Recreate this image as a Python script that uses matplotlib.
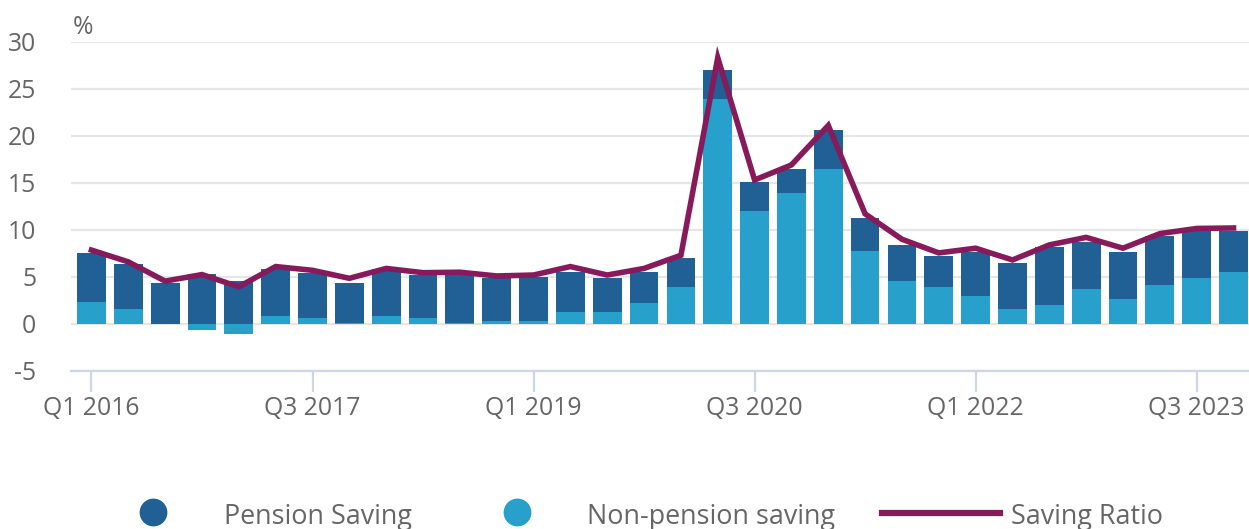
import numpy as np
import matplotlib
matplotlib.use("Agg")
import matplotlib.pyplot as plt
from matplotlib.lines import Line2D

# ---------- DATA ----------
quarters = [f"Q{q} {y}" for y in range(2016, 2024) for q in range(1, 5)]

non_pension = [2.3, 1.6, 0.0, -0.6, -1.1, 0.85, 0.6, 0.15, 0.85, 0.6,
               0.15, 0.35, 0.35, 1.3, 1.3, 2.25, 3.95, 23.9, 12.0, 13.9,
               16.5, 7.75, 4.6, 3.9, 2.95, 1.55, 2.0, 3.7, 2.7, 4.15,
               4.9, 5.55]
total_top = [7.5, 6.35, 4.4, 5.35, 4.55, 5.85, 5.45, 4.4, 5.8, 5.15,
             5.15, 4.9, 5.0, 5.55, 4.85, 5.55, 7.05, 27.0, 15.1, 16.5,
             20.6, 11.3, 8.4, 7.2, 7.65, 6.5, 8.15, 8.75, 7.65, 9.35,
             9.9, 9.85]
saving_ratio = [7.85, 6.6, 4.55, 5.25, 3.95, 6.1, 5.7, 4.85, 5.9, 5.45,
                5.5, 5.1, 5.2, 6.1, 5.2, 5.9, 7.3, 28.3, 15.3, 16.9,
                21.1, 11.7, 9.0, 7.55, 8.05, 6.8, 8.4, 9.2, 8.05, 9.6,
                10.15, 10.2]

tick_idx = [0, 6, 12, 18, 24, 30]

# pension = part above the non-pension stack (or above 0 if non-pension negative)
non_pension = np.array(non_pension)
total_top = np.array(total_top)
pension = np.where(non_pension > 0, total_top - non_pension, total_top)
pension_base = np.where(non_pension > 0, non_pension, 0)

# ---------- STYLE ----------
plt.rcParams['font.family'] = ['Open Sans', 'DejaVu Sans']
dark_blue = '#206095'
light_blue = '#27a0cc'
plum = '#871a5b'
grey_txt = '#666666'

fig = plt.figure(figsize=(12.49, 5.29), dpi=100)
ax = fig.add_axes([0.057, 0.2987, 0.943, 0.6225])

x = np.arange(len(quarters))
ax.bar(x, non_pension, width=0.78, color=light_blue, zorder=2)
ax.bar(x, pension, bottom=pension_base, width=0.78, color=dark_blue, zorder=2)
ax.plot(x, saving_ratio, color=plum, lw=4.0, zorder=3, solid_joinstyle='miter')

ax.set_ylim(-5, 30)
ax.set_xlim(-0.55, 31.42)
ax.set_yticks(range(-5, 31, 5))
ax.set_yticklabels([str(v) for v in range(-5, 31, 5)])
ax.grid(axis='y', color='#e6e6e6', lw=1.6, zorder=0)
ax.set_axisbelow(True)

ax.set_xticks(tick_idx)
ax.set_xticklabels([quarters[i] for i in tick_idx])

for s in ['top', 'right', 'left']:
    ax.spines[s].set_visible(False)
ax.spines['bottom'].set_color('#ccd6eb')
ax.spines['bottom'].set_linewidth(1.6)

ax.tick_params(axis='y', length=0, pad=25, labelsize=17.8, labelcolor=grey_txt)
ax.tick_params(axis='x', length=15, width=1.6, color='#ccd6eb', pad=3,
               labelsize=17.8, labelcolor=grey_txt)

fig.text(0.058, 0.948, '%', fontsize=17.8, color=grey_txt, va='center', ha='left')

# ---------- LEGEND ----------
ty = 0.022
my = 0.032
fig.add_artist(Line2D([153 / 1249], [my], marker='o', markersize=19,
                      color=dark_blue, transform=fig.transFigure))
fig.text(224 / 1249, ty, 'Pension Saving', fontsize=19.4, color=grey_txt,
         va='center', ha='left')
fig.add_artist(Line2D([517 / 1249], [my], marker='o', markersize=19,
                      color=light_blue, transform=fig.transFigure))
fig.text(587 / 1249, ty, 'Non-pension saving', fontsize=19.4, color=grey_txt,
         va='center', ha='left')
fig.add_artist(Line2D([882 / 1249, 1000 / 1249], [0.03, 0.03],
                      color=plum, lw=4.5, transform=fig.transFigure))
fig.text(1011 / 1249, ty, 'Saving Ratio', fontsize=19.4, color=grey_txt,
         va='center', ha='left')

fig.savefig('out.png', dpi=100)
